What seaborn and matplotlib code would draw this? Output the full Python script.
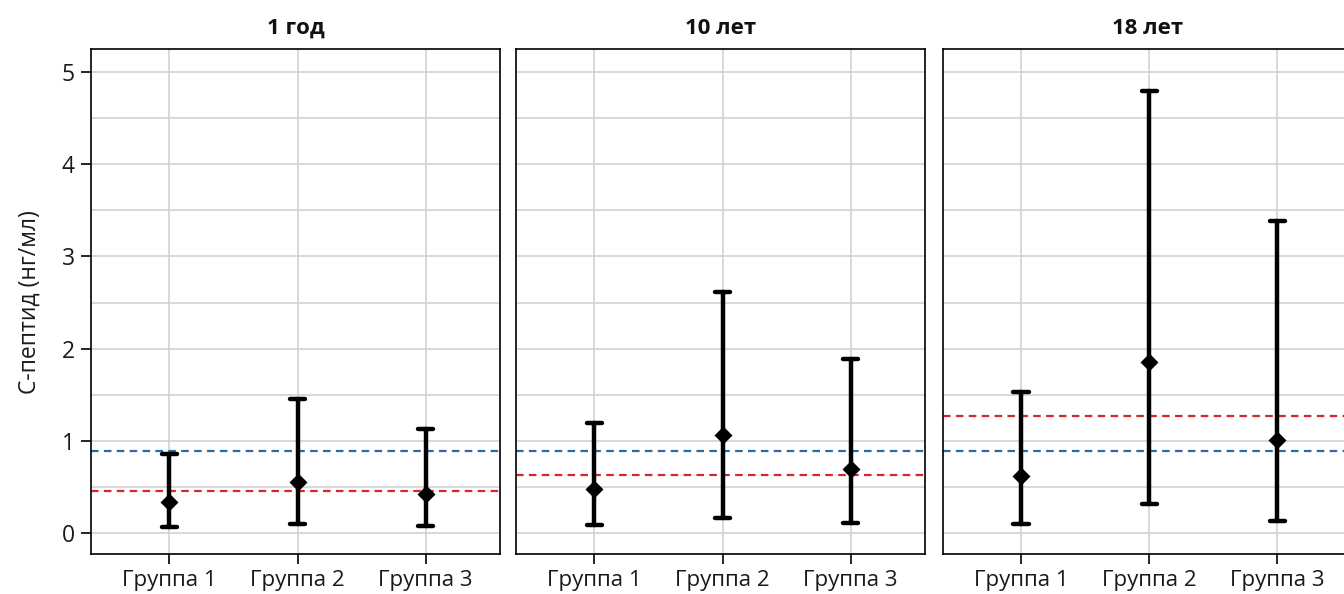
import numpy as np
import pandas as pd
import matplotlib
matplotlib.use("Agg")
import matplotlib.pyplot as plt
import seaborn as sns
from matplotlib.ticker import MultipleLocator

# Panels (age points) and groups
periods = ["1 год", "10 лет", "18 лет"]
groups = ["Группа 1", "Группа 2", "Группа 3"]

# C-peptide: central value and interval bounds per panel, per group
center = {
    "1 год":  [0.34, 0.55, 0.42],
    "10 лет": [0.48, 1.07, 0.70],
    "18 лет": [0.62, 1.86, 1.01],
}
low = {
    "1 год":  [0.07, 0.10, 0.08],
    "10 лет": [0.09, 0.17, 0.11],
    "18 лет": [0.10, 0.32, 0.13],
}
high = {
    "1 год":  [0.86, 1.455, 1.13],
    "10 лет": [1.20, 2.61, 1.89],
    "18 лет": [1.53, 4.79, 3.38],
}

# Reference levels
blue_level = [0.89, 0.89, 0.89]
red_level = [0.455, 0.63, 1.275]

ylabel = "C-пептид (нг/мл)"

# Long table: low / center / high per group -> median gives center, 100% interval gives bounds
rows = []
for p in periods:
    for i, g in enumerate(groups):
        for v in (low[p][i], center[p][i], high[p][i]):
            rows.append({"period": p, "group": g, "value": v})
df = pd.DataFrame(rows)

sns.set_theme(style="whitegrid")
plt.rcParams["font.family"] = ["Open Sans", "DejaVu Sans"]

W, H = 1344, 594
fig = plt.figure(figsize=(W / 100, H / 100), dpi=100)

ax_w = 408.7 / W
ax_top, ax_bot = 49.3, 554.3
ax_h = (ax_bot - ax_top) / H
ax_b = (H - ax_bot) / H
lefts = [91.3 / W, 516.3 / W, 943.0 / W]

for k, p in enumerate(periods):
    ax = fig.add_axes([lefts[k], ax_b, ax_w, ax_h])
    sub = df[df["period"] == p]
    sns.pointplot(
        data=sub, x="group", y="value", order=groups,
        estimator=np.median, errorbar=("pi", 100),
        color="black", markers="D", linestyles="none",
        capsize=0.12, err_kws={"linewidth": 3.2},
        markersize=7, ax=ax,
    )
    ax.axhline(blue_level[k], color="#2a6aa8", linestyle=(0, (3.4, 2.4)), linewidth=1.6, zorder=1)
    ax.axhline(red_level[k], color="#d8262b", linestyle=(0, (3.4, 2.4)), linewidth=1.6, zorder=1)

    ax.set_xlim(-0.61, 2.58)
    ax.set_ylim(-0.228, 5.244)
    ax.yaxis.set_major_locator(MultipleLocator(1))
    ax.yaxis.set_minor_locator(MultipleLocator(0.5))
    ax.grid(True, which="both", axis="y", color="#d2d2d2", linewidth=1.2)
    ax.grid(True, which="major", axis="x", color="#d2d2d2", linewidth=1.2)
    ax.set_axisbelow(True)

    for s in ax.spines.values():
        s.set_color("black")
        s.set_linewidth(1.2)

    ax.set_title(p, fontsize=16, fontweight="bold", pad=11, color="#111111")
    ax.set_xlabel("")
    ax.tick_params(axis="x", which="major", bottom=True, length=7, width=1.2,
                   color="black", labelsize=16, pad=4, labelcolor="#1a1a1a")
    ax.tick_params(axis="y", which="minor", left=False, length=0)
    if k == 0:
        ax.set_ylabel(ylabel, fontsize=16.5, labelpad=14, color="#1a1a1a")
        ax.tick_params(axis="y", which="major", left=True, length=7, width=1.2,
                       color="black", labelsize=16.5, pad=5, labelcolor="#1a1a1a")
    else:
        ax.set_ylabel("")
        ax.tick_params(axis="y", which="major", left=False, labelleft=False)

fig.savefig("out.png", dpi=100)
